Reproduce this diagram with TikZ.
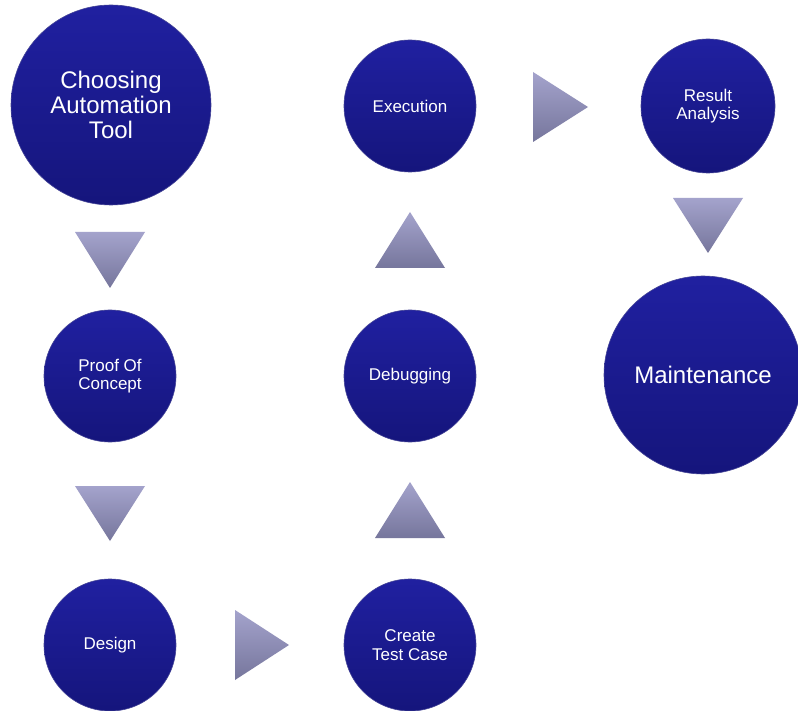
\documentclass[tikz,border=0pt]{standalone}
\usepackage{fontspec}
\setmainfont{Liberation Sans}
\usetikzlibrary{calc}
\definecolor{circtop}{HTML}{2020A0}
\definecolor{circbot}{HTML}{15157C}
\definecolor{tritop}{HTML}{A4A3CC}
\definecolor{tribot}{HTML}{76769C}
\tikzset{
  stage/.style={circle, minimum size=#1, inner sep=0pt, top color=circtop, bottom color=circbot,
     draw=circbot!80!white, line width=0.6pt, text=white, align=center, font=\fontsize{17}{18.5}\selectfont},
  bigstage/.style={stage=#1, font=\fontsize{24}{25}\selectfont},
  tri/.style={top color=tritop, bottom color=tribot, draw=none}
}
\begin{document}
\begin{tikzpicture}[x=1pt,y=-1pt]
\useasboundingbox (0,0) rectangle (798,711);
\fill[white] (0,0) rectangle (798,711);
% circles
\node[bigstage=200pt] (choose) at (111,105) {Choosing\\Automation\\Tool};
\node[stage=132pt] (exec) at (410,106) {Execution};
\node[stage=134pt] (result) at (708,106) {Result\\Analysis};
\node[stage=132pt] (poc) at (110,376) {Proof Of\\Concept};
\node[stage=132pt] (debug) at (410,376) {Debugging};
\node[bigstage=198pt] (maint) at (703,375) {Maintenance};
\node[stage=132pt] (design) at (110,645) {Design};
\node[stage=132pt] (create) at (410,645) {Create\\Test Case};
% arrow triangles
\shade[tri] (75,232) -- (145,232) -- (110,288) -- cycle;
\shade[tri] (75,486) -- (145,486) -- (110,541) -- cycle;
\shade[tri] (375,268) -- (445,268) -- (410,212) -- cycle;
\shade[tri] (375,538) -- (445,538) -- (410,482) -- cycle;
\shade[tri] (673,198) -- (743,198) -- (708,253) -- cycle;
\shade[tri] (533,72) -- (533,142) -- (588,107) -- cycle;
\shade[tri] (235,610) -- (235,680) -- (289,645) -- cycle;
\end{tikzpicture}
\end{document}
